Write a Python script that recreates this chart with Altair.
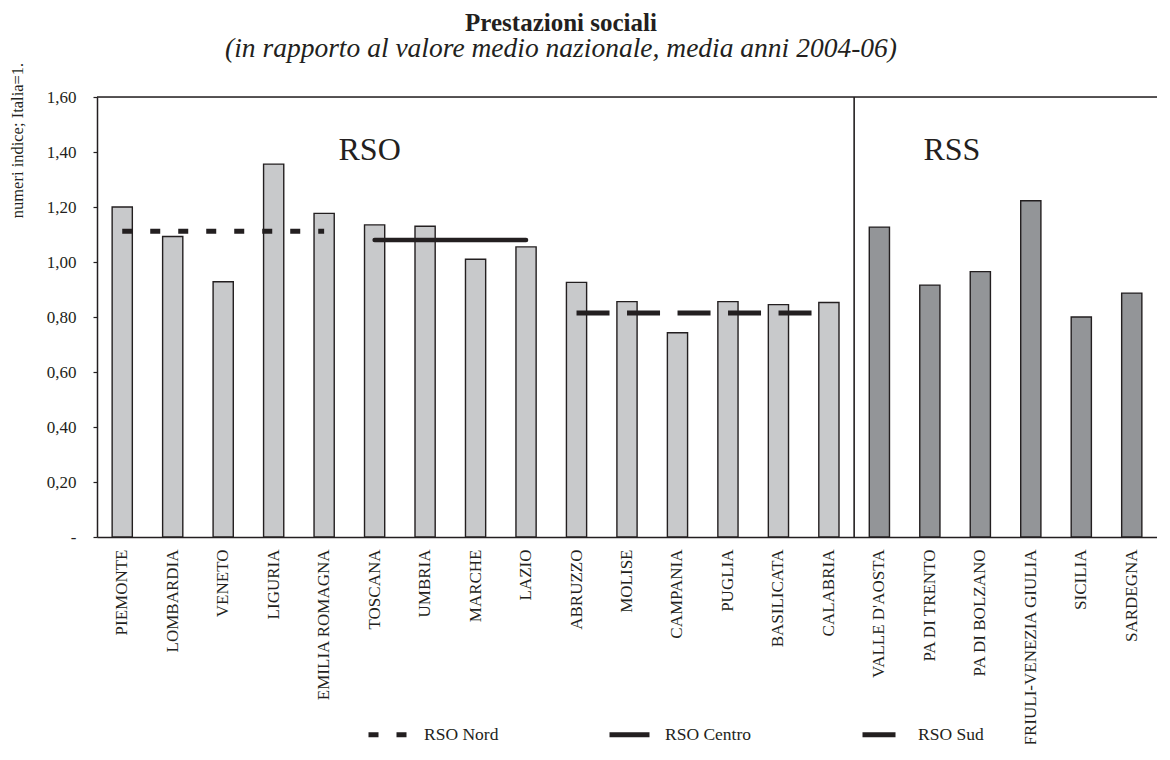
import altair as alt
import pandas as pd

# ---- data -------------------------------------------------------------
regioni = ["PIEMONTE", "LOMBARDIA", "VENETO", "LIGURIA", "EMILIA ROMAGNA",
           "TOSCANA", "UMBRIA", "MARCHE", "LAZIO", "ABRUZZO", "MOLISE",
           "CAMPANIA", "PUGLIA", "BASILICATA", "CALABRIA", "VALLE D'AOSTA",
           "PA DI TRENTO", "PA DI BOLZANO", "FRIULI-VENEZIA GIULIA",
           "SICILIA", "SARDEGNA"]
valori = [1.200, 1.093, 0.928, 1.356, 1.177, 1.135, 1.130, 1.010, 1.055,
          0.926, 0.856, 0.743, 0.856, 0.845, 0.853, 1.127, 0.916, 0.965,
          1.223, 0.800, 0.887]
gruppi = ["RSO"] * 15 + ["RSS"] * 6

serie = ["RSO Nord", "RSO Centro", "RSO Sud"]
serie_da = ["PIEMONTE", "TOSCANA", "ABRUZZO"]
serie_a = ["EMILIA ROMAGNA", "LAZIO", "CALABRIA"]
serie_valori = [1.112, 1.080, 0.815]

y_ticks = [0, 0.2, 0.4, 0.6, 0.8, 1.0, 1.2, 1.4, 1.6]
y_max = 1.6
divisore = ["VALLE D'AOSTA"]
etichette = ["RSO", "RSS"]
etichette_pos = ["TOSCANA", "PA DI TRENTO"]
etichette_y = [1.371, 1.371]

INK = "#231f20"
FONT = "Liberation Serif"

# ---- tables -----------------------------------------------------------
bars_df = pd.DataFrame({"regione": regioni, "valore": valori, "gruppo": gruppi})
rows = []
for s, a, b, v in zip(serie, serie_da, serie_a, serie_valori):
    rows.append({"serie": s, "regione": a, "valore": v})
    rows.append({"serie": s, "regione": b, "valore": v})
lines_df = pd.DataFrame(rows)
div_df = pd.DataFrame({"regione": divisore})
top_df = pd.DataFrame({"valore": [y_max]})
lab_df = pd.DataFrame({"testo": etichette, "regione": etichette_pos, "valore": etichette_y})

x_scale = alt.Scale(domain=regioni, paddingInner=0, paddingOuter=0)
y_scale = alt.Scale(domain=[0, y_max], nice=False, zero=True)

x_axis = alt.Axis(title=None, labelAngle=270, labelAlign="right", labelBaseline="middle",
                  labelFontSize=17, labelPadding=12, labelLimit=400, ticks=False, domain=True,
                  domainColor=INK, domainWidth=1.5, labelColor=INK, labelFont=FONT)
y_axis = alt.Axis(values=y_ticks, grid=False,
                  labelExpr="datum.value == 0 ? '-\u00a0\u00a0\u00a0\u00a0' : replace(format(datum.value, '.2f'), '.', ',')",
                  labelFontSize=17, labelPadding=17, labelColor=INK, labelFont=FONT,
                  tickSize=4, tickColor=INK, tickWidth=1.2,
                  domainColor=INK, domainWidth=1.5,
                  title="numeri indice; Italia=1.", titleFont=FONT, titleFontSize=16.5,
                  titleFontWeight="normal", titleColor=INK, titleAngle=270,
                  titleAlign="center", titleBaseline="middle", titleX=-80, titleY=43)

bars = alt.Chart(bars_df).mark_bar(
    width=alt.RelativeBandSize(0.4), stroke=INK, strokeWidth=1.4
).encode(
    x=alt.X("regione:N", sort=regioni, scale=x_scale, axis=x_axis),
    y=alt.Y("valore:Q", scale=y_scale, axis=y_axis),
    fill=alt.Fill("gruppo:N", scale=alt.Scale(domain=["RSO", "RSS"], range=["#c8c9cb", "#939598"]),
                  legend=None),
)

legend_cfg = alt.Legend(title=None, orient="none", direction="horizontal", legendX=269, legendY=615,
                        symbolType="stroke", symbolSize=1600, symbolStrokeWidth=5,
                        symbolStrokeColor=INK,
                        labelFont=FONT, labelFontSize=17.5, labelColor=INK, labelOffset=13,
                        labelLimit=300, columnPadding=100, columns=3)
dash_enc = alt.StrokeDash("serie:N", scale=alt.Scale(domain=serie, range=[[10, 18], [1, 0], [33, 17.5]]),
                          legend=legend_cfg)

lines_dash = alt.Chart(lines_df).transform_filter(
    alt.FieldOneOfPredicate(field="serie", oneOf=["RSO Nord", "RSO Sud"])
).mark_line(strokeWidth=5, strokeCap="butt", color=INK).encode(
    x=alt.X("regione:N", sort=regioni, scale=x_scale),
    y=alt.Y("valore:Q", scale=y_scale),
    strokeDash=dash_enc, detail="serie:N",
)
lines_solid = alt.Chart(lines_df).transform_filter(
    alt.FieldEqualPredicate(field="serie", equal="RSO Centro")
).mark_line(strokeWidth=4.5, strokeCap="round", color=INK).encode(
    x=alt.X("regione:N", sort=regioni, scale=x_scale),
    y=alt.Y("valore:Q", scale=y_scale),
    strokeDash=dash_enc, detail="serie:N",
)

divider = alt.Chart(div_df).mark_rule(color=INK, strokeWidth=1.6).encode(
    x=alt.X("regione:N", sort=regioni, scale=x_scale, bandPosition=0)
)
top_line = alt.Chart(top_df).mark_rule(color=INK, strokeWidth=1.6).encode(
    y=alt.Y("valore:Q", scale=y_scale)
)

rso_txt = alt.Chart(lab_df).transform_filter(alt.datum.testo == "RSO").mark_text(
    font=FONT, fontSize=32, color=INK, baseline="alphabetic", align="center", dx=-5
).encode(x=alt.X("regione:N", sort=regioni, scale=x_scale), y=alt.Y("valore:Q", scale=y_scale), text="testo:N")
rss_txt = alt.Chart(lab_df).transform_filter(alt.datum.testo == "RSS").mark_text(
    font=FONT, fontSize=32, color=INK, baseline="alphabetic", align="center", dx=22
).encode(x=alt.X("regione:N", sort=regioni, scale=x_scale), y=alt.Y("valore:Q", scale=y_scale), text="testo:N")

chart = alt.layer(bars, lines_dash, lines_solid, divider, top_line, rso_txt, rss_txt).properties(
    width=1060, height=440,
    autosize=alt.AutoSizeParams(type="none"),
    padding={"left": 89, "top": 89, "right": 0, "bottom": 207},
    title=alt.TitleParams(
        text="Prestazioni sociali",
        subtitle="(in rapporto al valore medio nazionale, media anni 2004-06)",
        font=FONT, fontSize=25, fontWeight="bold", color=INK,
        subtitleFont=FONT, subtitleFontSize=27.5, subtitleFontStyle="italic", subtitleColor=INK,
        subtitlePadding=-1, anchor="middle", offset=0, dx=-66,
    ),
).configure_view(stroke=None).configure_legend(
    labelFont=FONT, labelFontSize=17.5, labelColor=INK
).configure(font=FONT, background="white")

chart.save("out.html", embed_options={"renderer": "svg", "actions": False})
